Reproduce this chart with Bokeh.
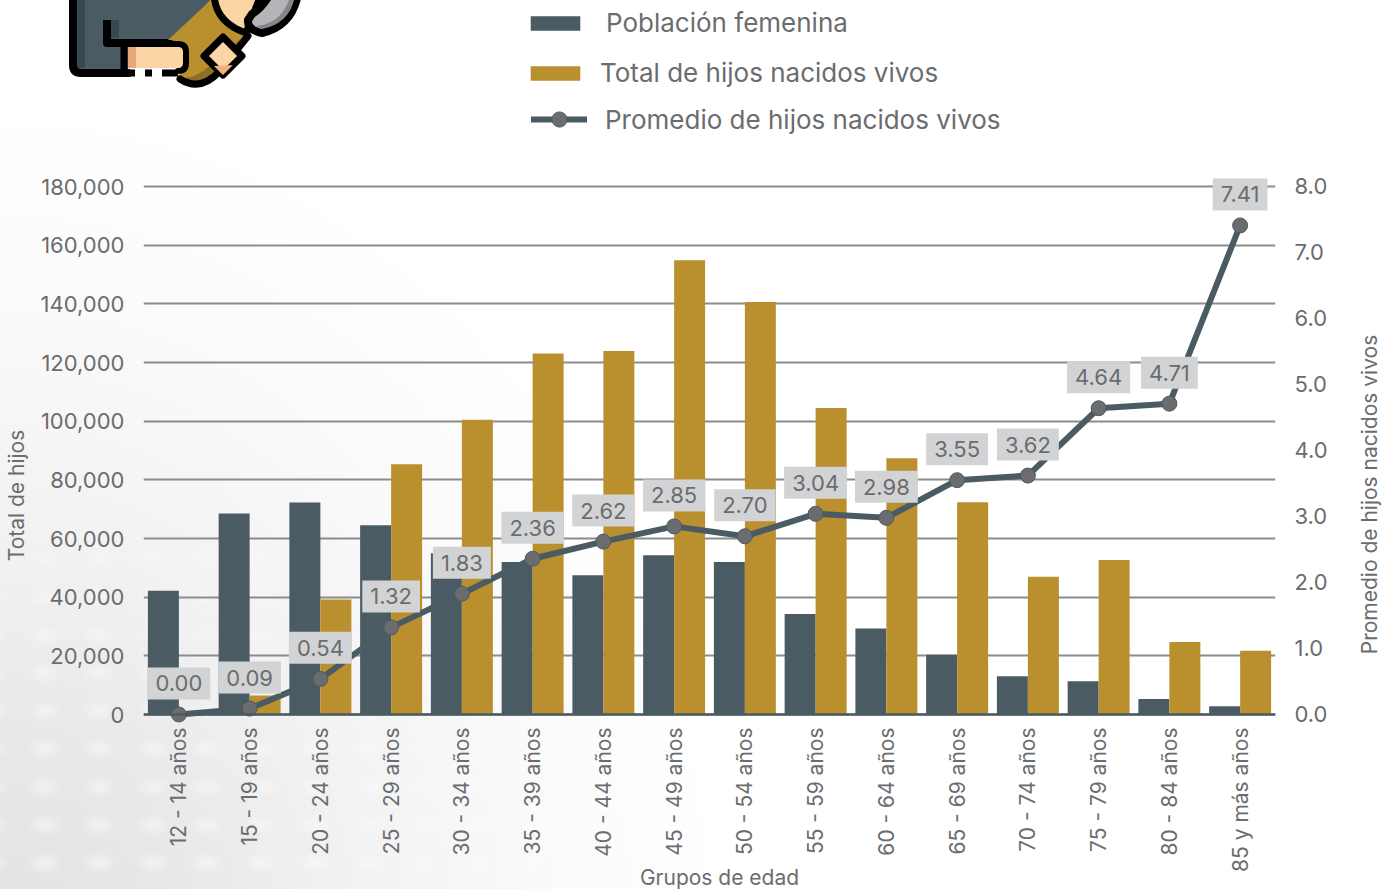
from urllib.parse import quote
from bokeh.plotting import figure
from bokeh.models import (FactorRange, Range1d, LinearAxis, FixedTicker, NumeralTickFormatter,
                          Legend, LegendItem, Span, Label)
from bokeh.transform import dodge
from bokeh.core.properties import value
from bokeh.embed import file_html
from bokeh.resources import INLINE

categorias = ["12 - 14 años", "15 - 19 años", "20 - 24 años", "25 - 29 años", "30 - 34 años",
              "35 - 39 años", "40 - 44 años", "45 - 49 años", "50 - 54 años", "55 - 59 años",
              "60 - 64 años", "65 - 69 años", "70 - 74 años", "75 - 79 años", "80 - 84 años",
              "85 y más años"]
poblacion = [42200, 68500, 72300, 64500, 55000, 52000, 47500, 54300, 52000, 34300, 29300,
             20400, 13000, 11300, 5300, 2800]
total_hijos = [0, 6500, 39200, 85300, 100500, 123100, 123900, 154900, 140600, 104500, 87400,
               72400, 47000, 52700, 24700, 21700]
promedio = [0.00, 0.09, 0.54, 1.32, 1.83, 2.36, 2.62, 2.85, 2.70, 3.04, 2.98, 3.55, 3.62,
            4.64, 4.71, 7.41]
ticks_izq = [0, 20000, 40000, 60000, 80000, 100000, 120000, 140000, 160000, 180000]
ticks_der = [0, 1, 2, 3, 4, 5, 6, 7, 8]

PIZARRA = "#4A5B63"
ORO = "#BA8F2E"
TEXTO = "#6B6C6E"
GRIS = "#8C8C8C"
FUENTE = "Inter"

# Fondo decorativo e icono, como imagen de fondo de la pagina
fondo_svg = """<svg xmlns='http://www.w3.org/2000/svg' width='1388' height='889' viewBox='0 0 1388 889'>
<defs>
<radialGradient id='g' gradientUnits='userSpaceOnUse' cx='0' cy='960' r='860' gradientTransform='translate(0 960) scale(0.85 1) translate(0 -960)'>
<stop offset='0' stop-color='#e2e2e2'/><stop offset='0.25' stop-color='#e8e8e8'/>
<stop offset='0.5' stop-color='#f2f2f2'/><stop offset='0.75' stop-color='#fafafa'/><stop offset='1' stop-color='#ffffff'/></radialGradient>
<radialGradient id='d'><stop offset='0' stop-color='#fff' stop-opacity='0.55'/><stop offset='1' stop-color='#fff' stop-opacity='0'/></radialGradient>
<pattern id='p' width='54' height='38' patternUnits='userSpaceOnUse' x='18' y='8'>
<ellipse cx='27' cy='19' rx='19' ry='12' fill='url(#d)'/></pattern>
<linearGradient id='mg' x1='0' y1='1' x2='1' y2='0'><stop offset='0' stop-color='#fff'/><stop offset='0.62' stop-color='#fff' stop-opacity='0.5'/><stop offset='0.8' stop-color='#000'/></linearGradient>
<mask id='m'><rect x='0' y='550' width='640' height='339' fill='url(#mg)'/></mask>
</defs>
<rect width='1388' height='889' fill='url(#g)'/>
<rect x='0' y='550' width='640' height='339' fill='url(#p)' mask='url(#m)'/>
<g stroke-linejoin='round' stroke-linecap='round'>
<path d='M73 -10 V65 Q73 73 81 73 H128 V44 H172 L215 -5 Z' fill='#4A5B63'/>
<path d='M77 -5 H85 V68 H77 Z' fill='#344950'/>
<path d='M73 -10 V65 Q73 73 81 73 H128' fill='none' stroke='#000' stroke-width='8'/>
<path d='M111 20 H119 V38 H111 Z' fill='#344950'/>
<path d='M107 20 V43 H172' fill='none' stroke='#000' stroke-width='8' stroke-linecap='butt'/>
<path d='M168 40 L213 -2 Q220 22 248 34 L218 72 Q200 90 180 80 L178 76 Q186 70 185 60 V50 Q183 42 172 40 Z' fill='#BA8F2E'/>
<path d='M178 77 Q200 82 224 50 L246 36 L218 72 Q200 90 180 80 Z' fill='#8F6E28'/>
<path d='M124 47 V76 M124 73 H135 M145 73 H152 M162 73 H178' fill='none' stroke='#000' stroke-width='7' stroke-linecap='butt'/>
<path d='M128 47 H178 Q183 47 183 52 V63 Q183 68 178 68 H128 Z' fill='#FCD5A5'/>
<path d='M172 44 H178 Q186 44 186 52 V63 Q186 71 178 71' fill='none' stroke='#000' stroke-width='6'/>
<path d='M128 47 H136 V68 H128 Z' fill='#E5A878'/>
<path d='M180 79 Q200 92 219 72 L248 36' fill='none' stroke='#000' stroke-width='7'/>
<path d='M223 37 L242 56 L223 75 L204 56 Z' fill='#FCD5A5' stroke='#000' stroke-width='7'/>
<path d='M233 65 L242 56 L223 75 L214 66 Z' fill='#F0B27E'/>
<path d='M214 -8 Q214 22 246 33 L262 -8 Z' fill='#FCD5A5' stroke='#000' stroke-width='7'/>
<path d='M252 14 Q262 8 270 -6 H298 Q292 26 262 33 Q247 30 248 20 Z' fill='#B5B5B9' stroke='#000' stroke-width='8'/>
<path d='M256 26 Q280 24 289 0 H294 Q288 24 262 29 Z' fill='#85858A'/>
</g></svg>"""
fondo = "url(\"data:image/svg+xml," + quote(fondo_svg.replace("\n", "")) + "\") no-repeat 0 0 / 1388px 889px"

p = figure(width=1388, height=889, output_backend="svg", toolbar_location=None,
           x_range=FactorRange(factors=categorias, range_padding=0, factor_padding=0),
           y_range=Range1d(-3409.09, 243409.09),
           frame_width=1132, frame_height=724,
           min_border_left=143, min_border_top=0, min_border_right=113, min_border_bottom=165,
           background_fill_color=None, border_fill_color=None, outline_line_color=None)
p.styles = {"background": fondo}

p.extra_y_ranges = {"prom": Range1d(-0.15152, 10.81818)}

data = dict(cat=categorias, pob=poblacion, tot=total_hijos, prom=promedio,
            et=[f"{v:.2f}" for v in promedio])

p.ygrid.ticker = FixedTicker(ticks=ticks_izq)
p.ygrid.grid_line_color = GRIS
p.ygrid.grid_line_width = 2
p.xgrid.visible = False

b1 = p.vbar(x=dodge("cat", -0.219, range=p.x_range), top="pob", width=0.438, source=data,
            color=PIZARRA, line_color=None)
b2 = p.vbar(x=dodge("cat", 0.219, range=p.x_range), top="tot", width=0.438, source=data,
            color=ORO, line_color=None)
p.add_layout(Span(location=0, dimension="width", line_color=PIZARRA, line_width=2.5, level="glyph"))

l = p.line("cat", "prom", source=data, y_range_name="prom", line_color=PIZARRA, line_width=6,
           line_join="round", line_cap="round")
m = p.scatter("cat", "prom", source=data, y_range_name="prom", size=15, fill_color=TEXTO,
              line_color=PIZARRA, line_width=1)
p.text("cat", "prom", text="et", source=data, y_range_name="prom", y_offset=-31,
       text_align="center", text_baseline="middle", text_font=value(FUENTE),
       text_font_size="22px", text_color=TEXTO, background_fill_color="#D2D3D5",
       padding=8)

# Ejes
ax = p.yaxis[0]
ax.ticker = FixedTicker(ticks=ticks_izq)
ax.formatter = NumeralTickFormatter(format="0,0")
ax2 = LinearAxis(y_range_name="prom", ticker=FixedTicker(ticks=ticks_der),
                 formatter=NumeralTickFormatter(format="0.0"))
p.add_layout(ax2, "right")
for a in (ax, ax2):
    a.axis_line_color = None
    a.major_tick_line_color = None
    a.minor_tick_line_color = None
    a.major_tick_out = 0
    a.major_label_text_font = FUENTE
    a.major_label_text_font_size = "22px"
    a.major_label_text_color = TEXTO
    a.major_label_standoff = 19
xa = p.xaxis[0]
xa.axis_line_color = None
xa.major_tick_line_color = None
xa.minor_tick_line_color = None
xa.major_tick_out = 0
xa.major_label_orientation = 1.5708
xa.major_label_text_font = FUENTE
xa.major_label_text_font_size = "21px"
xa.major_label_text_color = TEXTO
xa.major_label_standoff = 3

# Titulos de eje: etiquetas en los paneles laterales, para que no las recorte el marco
def titulo(t, lado, x, y, ang):
    p.add_layout(Label(x=x, y=y, x_units="screen", y_units="screen", text=t, angle=ang,
                       text_align="center", text_baseline="middle", text_font=FUENTE,
                       text_font_size="21px", text_color=TEXTO), lado)
titulo("Total de hijos", "left", 4, 229, 1.5708)
titulo("Promedio de hijos nacidos vivos", "right", 39, 230, 1.5708)
titulo("Grupos de edad", "below", 576, 22, 0)

# Leyendas
def leyenda(texto, rend, x, y, standoff, gw, gh):
    lg = Legend(items=[LegendItem(label=texto, renderers=rend)], location=(x, y),
                background_fill_alpha=0, border_line_color=None, margin=0, padding=0,
                label_standoff=standoff, glyph_width=gw, glyph_height=gh,
                label_text_font=FUENTE, label_text_font_size="26px", label_text_color=TEXTO)
    p.add_layout(lg, "center")
leyenda("Población femenina", [b1], 381, 686, 20, 62, 18)
leyenda("Total de hijos nacidos vivos", [b2], 381, 636, 14, 62, 18)
leyenda("Promedio de hijos nacidos vivos", [l, m], 388, 586, 18, 56, 38)

open("out.html", "w").write(file_html(p, INLINE))
